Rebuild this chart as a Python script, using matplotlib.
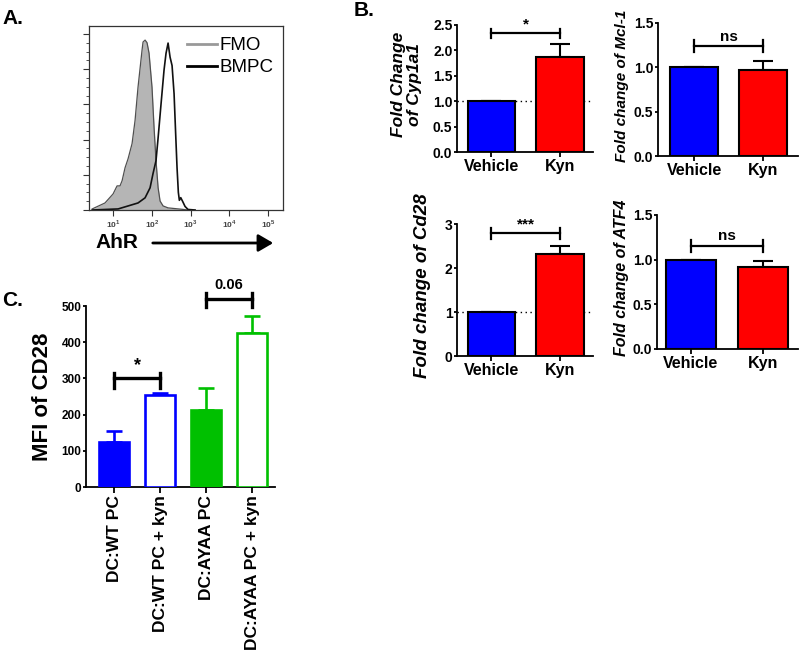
import numpy as np
import matplotlib
matplotlib.use("Agg")
import matplotlib.pyplot as plt
from matplotlib.lines import Line2D
from matplotlib.ticker import MultipleLocator

plt.rcParams['font.family'] = ['Liberation Sans', 'DejaVu Sans']
plt.rcParams['font.weight'] = 'bold'
plt.rcParams['mathtext.fontset'] = 'custom'
plt.rcParams['mathtext.rm'] = 'Liberation Sans'

# ---- data ----
# A: flow histogram (AhR intensity vs % of max)
fmo_x = [2.9, 6.2, 10, 12.7, 15.1, 17.1, 20.4, 24.4, 30.9, 36.9, 44, 55.9, 59.3, 67, 75.2,
         84.7, 101, 114, 128, 145, 163, 195, 262, 396, 600, 850]
fmo_y = [0.6, 4.0, 9.1, 13.7, 13.7, 16.6, 24, 29.1, 37.7, 50.8, 69.7, 90.8, 95.4, 96.5, 95,
         89.1, 69.7, 46.8, 28, 12.6, 5.1, 2.3, 1.2, 0.8, 0.4, 0]
bmpc_x = [2.9, 13.5, 24.4, 44, 66.8, 90, 107, 128, 145, 173, 206, 232, 262, 295, 332, 374,
          408, 446, 482, 512, 556, 618, 718, 857, 1300]
bmpc_y = [0, 0.6, 2.3, 4, 6.9, 12.6, 20.6, 28, 41, 60.5, 79.4, 89, 94.8, 86.8, 82, 66,
          45, 24, 10, 5.5, 7, 5, 2, 0.3, 0]

# B: fold change, vehicle vs kyn
conds = ["Vehicle", "Kyn"]
cyp1a1_mean = [1.0, 1.87]
cyp1a1_sem = [0, 0.26]
mcl1_mean = [1.0, 0.97]
mcl1_sem = [0, 0.10]
cd28_mean = [1.0, 2.32]
cd28_sem = [0, 0.19]
atf4_mean = [1.0, 0.92]
atf4_sem = [0, 0.07]

# C: MFI of CD28
groups = ["DC:WT PC", "DC:WT PC + kyn", "DC:AYAA PC", "DC:AYAA PC + kyn"]
mfi_mean = [124, 254, 214, 425]
mfi_sem = [31, 6, 59, 47]

BLUE = '#0000ff'
RED = '#ff0000'
GREEN = '#00c000'

fig = plt.figure(figsize=(8, 6.54), dpi=100)


def px_axes(x0, y0, x1, y1):
    return fig.add_axes([x0 / 800, 1 - y1 / 654, (x1 - x0) / 800, (y1 - y0) / 654])


# ---------------- panel A ----------------
ax = px_axes(89, 26, 283, 210)
ax.fill_between(fmo_x, fmo_y, 0, color='#b5b5b5', lw=0)
ax.plot(fmo_x, fmo_y, color='#505050', lw=0.9)
ax.plot(bmpc_x, bmpc_y, color='#111111', lw=1.2)
ax.set_xscale('log')
ax.set_xlim(2.4, 2.4e5)
ax.set_ylim(0, 104.5)
ax.set_xticks([1e1, 1e2, 1e3, 1e4, 1e5])
ax.set_xticklabels([r'$10^{1}$', r'$10^{2}$', r'$10^{3}$', r'$10^{4}$', r'$10^{5}$'],
                   fontsize=6, fontweight='normal', color='#444444')
ax.yaxis.set_major_locator(MultipleLocator(20))
ax.yaxis.set_minor_locator(MultipleLocator(5))
ax.set_yticklabels([])
ax.tick_params(axis='both', which='major', direction='out', length=4, width=0.8, color='#333333', pad=2)
ax.tick_params(axis='both', which='minor', direction='out', length=2, width=0.6, color='#333333')
for s in ax.spines.values():
    s.set_color('#333333')
    s.set_linewidth(0.9)
handles = [Line2D([], [], color='#999999', lw=2), Line2D([], [], color='black', lw=2)]
leg = ax.legend(handles, ['FMO', 'BMPC'], loc='upper right', frameon=False,
                prop={'size': 13.5, 'weight': 'normal'}, handlelength=1.6, handletextpad=0.15,
                labelspacing=0.25, borderaxespad=0.1, bbox_to_anchor=(1.0, 0.99))
fig.text(95 / 800, 1 - 243 / 654, 'AhR', fontsize=15, fontweight='bold', va='center', ha='left')
fig.add_artist(matplotlib.patches.FancyArrowPatch(
    (150 / 800, 1 - 243 / 654), (276 / 800, 1 - 243 / 654), transform=fig.transFigure,
    arrowstyle='-|>,head_length=6,head_width=3.5', color='black', lw=2, mutation_scale=1.5))

fig.text(2 / 800, 1 - 19 / 654, 'A.', fontsize=15, fontweight='bold', va='center', ha='left')
fig.text(354 / 800, 1 - 11 / 654, 'B.', fontsize=15, fontweight='bold', va='center', ha='left')
fig.text(2 / 800, 1 - 300 / 654, 'C.', fontsize=15, fontweight='bold', va='center', ha='left')


# ---------------- panel B ----------------
def fold_panel(box, mean, sem, ylim, step, fmt, xlim, ylabel, lab_x, lab_size,
               br_y, br_lo, br_hi, sig, sig_y, dotted=False):
    ax = px_axes(*box)
    x = np.arange(len(conds))
    ax.bar(x, mean, width=0.69, color=[BLUE, RED], edgecolor='black', lw=1.5, zorder=3)
    ax.errorbar(x, mean, yerr=[[0, 0], sem], fmt='none', ecolor='black', elinewidth=1.5,
                capsize=7.5, capthick=1.5, zorder=2)
    if dotted:
        ax.axhline(1.0, color='black', lw=1, ls=(0, (1, 2.5)), zorder=1)
    ax.set_xlim(*xlim)
    ax.set_ylim(*ylim)
    ax.set_yticks(np.arange(ylim[0], ylim[1] + step / 2, step))
    ax.yaxis.set_major_formatter(matplotlib.ticker.FormatStrFormatter(fmt))
    ax.set_xticks(x)
    ax.set_xticklabels(conds, fontsize=11.5, fontweight='bold')
    for t in ax.get_yticklabels():
        t.set_fontsize(10)
        t.set_fontweight('bold')
    ax.tick_params(axis='y', direction='out', length=2.5, width=1.3, pad=0.8)
    ax.tick_params(axis='x', direction='out', length=3.5, width=1.3, pad=1.5)
    for s in ['top', 'right']:
        ax.spines[s].set_visible(False)
    for s in ['left', 'bottom']:
        ax.spines[s].set_linewidth(1.3)
    ax.plot([0, 1], [br_y, br_y], color='black', lw=1.6, clip_on=False)
    for xb in [0, 1]:
        ax.plot([xb, xb], [br_lo, br_hi], color='black', lw=1.6, clip_on=False)
    ax.text(0.5, sig_y, sig, ha='center', va='center', fontsize=11, fontweight='bold', clip_on=False)
    ax.text(lab_x, 0.53, ylabel, transform=ax.transAxes, rotation=90, ha='center', va='center',
            fontsize=lab_size, fontweight='bold', fontstyle='italic', linespacing=1.05)
    return ax


fold_panel((457, 25, 593, 152), cyp1a1_mean, cyp1a1_sem, (0, 2.5), 0.5, '%.1f', (-0.5, 1.48),
           'Fold Change\nof Cyp1a1', -0.37, 12.5, 2.34, 2.24, 2.415, '*', 2.52, dotted=True)
fold_panel((658, 23, 798, 156), mcl1_mean, mcl1_sem, (0, 1.5), 0.5, '%.1f', (-0.52, 1.5),
           'Fold change of Mcl-1', -0.26, 11, 1.244, 1.176, 1.308, 'ns', 1.345)
fold_panel((457, 224, 593, 356), cd28_mean, cd28_sem, (0, 3), 1, '%d', (-0.5, 1.48),
           'Fold change of Cd28', -0.257, 13.5, 2.79, 2.65, 2.9, '***', 3.0, dotted=True)
fold_panel((657, 215, 798, 349), atf4_mean, atf4_sem, (0, 1.5), 0.5, '%.1f', (-0.47, 1.49),
           'Fold change of ATF4', -0.25, 11.5, 1.156, 1.09, 1.22, 'ns', 1.26)

# ---------------- panel C ----------------
ax = px_axes(86, 306, 275, 487)
xc = np.arange(len(groups))
cols = [BLUE, BLUE, GREEN, GREEN]
faces = [BLUE, 'white', GREEN, 'white']
ax.bar(xc, mfi_mean, width=0.66, color=faces, edgecolor=cols, lw=1.9, zorder=3)
for i in range(len(groups)):
    ax.errorbar(xc[i], mfi_mean[i], yerr=[[0], [mfi_sem[i]]], fmt='none', ecolor=cols[i],
                elinewidth=1.9, capsize=6, capthick=1.9, zorder=2)
ax.set_xlim(-0.61, 3.5)
ax.set_ylim(0, 500)
ax.set_yticks([0, 100, 200, 300, 400, 500])
ax.set_xticks(xc)
ax.set_xticklabels(groups, rotation=90, fontsize=12.5, fontweight='bold')
for t in ax.get_yticklabels():
    t.set_fontsize(8.5)
    t.set_fontweight('bold')
ax.tick_params(axis='y', direction='out', length=2.5, width=1.3, pad=0.8)
ax.tick_params(axis='x', direction='out', length=4, width=1.3, pad=1.5)
for s in ['top', 'right']:
    ax.spines[s].set_visible(False)
for s in ['left', 'bottom']:
    ax.spines[s].set_linewidth(1.3)
ax.text(-0.228, 0.5, 'MFI of CD28', transform=ax.transAxes, rotation=90, ha='center',
        va='center', fontsize=16, fontweight='bold')
# significance brackets
for (a, b, yl, lo, hi, lab, ty) in [(0, 1, 301, 273, 315, '*', 336), (2, 3, 519, 497, 536, '0.06', 558)]:
    ax.plot([a, b], [yl, yl], color='black', lw=2.4, clip_on=False)
    for xb in [a, b]:
        ax.plot([xb, xb], [lo, hi], color='black', lw=2.4, clip_on=False)
    ax.text((a + b) / 2, ty, lab, ha='center', va='center', fontsize=10.5 if lab != '*' else 13,
            fontweight='bold', clip_on=False)

fig.savefig('out.png', dpi=100)
